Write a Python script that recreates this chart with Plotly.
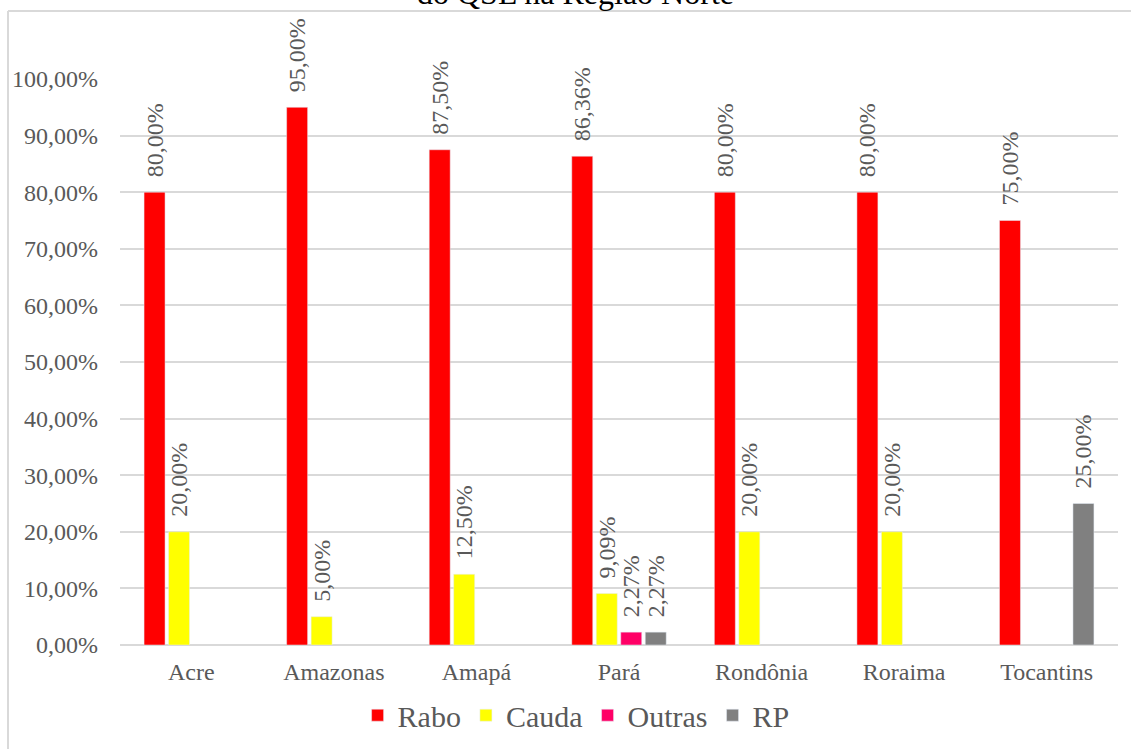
import plotly.graph_objects as go

categories = ["Acre", "Amazonas", "Amapá", "Pará", "Rondônia", "Roraima", "Tocantins"]
rabo = [0.80, 0.95, 0.875, 0.8636, 0.80, 0.80, 0.75]
cauda = [0.20, 0.05, 0.125, 0.0909, 0.20, 0.20, None]
outras = [None, None, None, 0.0227, None, None, None]
rp = [None, None, None, 0.0227, None, None, 0.25]
tick_vals = [0, 0.1, 0.2, 0.3, 0.4, 0.5, 0.6, 0.7, 0.8, 0.9, 1.0]

series = [("Rabo", rabo, "#FF0000"), ("Cauda", cauda, "#FFFF00"),
          ("Outras", outras, "#FF0066"), ("RP", rp, "#808080")]

FONT = "Liberation Serif"
GREY = "#595959"

fig = go.Figure()
for name, vals, color in series:
    fig.add_trace(go.Bar(
        x=categories, y=vals, name=name, marker_color=color,
        texttemplate="\u2002%{y:.2%}", textposition="outside", textangle=-90,
        constraintext="none", cliponaxis=False,
        textfont=dict(family=FONT, size=24, color=GREY),
    ))

fig.update_layout(
    width=1131, height=749,
    margin=dict(l=120, r=13, t=79, b=104, autoexpand=False),
    paper_bgcolor="white", plot_bgcolor="white",
    separators=",.",
    barmode="group", bargap=0.313, bargroupgap=0.143,
    font=dict(family=FONT, color=GREY, size=24),
    showlegend=True,
    legend=dict(orientation="h", x=0.457, xanchor="center", y=-0.124, yanchor="middle",
                font=dict(family=FONT, size=30, color=GREY), itemwidth=30),
    xaxis=dict(showgrid=False, showline=False, ticks="", automargin=False, ticklabelstandoff=10,
               tickfont=dict(family=FONT, size=24, color=GREY)),
    yaxis=dict(range=[0, 1.0], tickvals=tick_vals, tickformat=".2%", showgrid=True,
               gridcolor="#D9D9D9", gridwidth=1.5, zeroline=True, zerolinecolor="#D9D9D9",
               zerolinewidth=1.5, showline=False, ticklabelstandoff=21, automargin=False,
               tickfont=dict(family=FONT, size=24, color=GREY)),
)

fig.add_annotation(text="do QSL na Região Norte", xref="paper", yref="paper",
                   x=0.456, y=1.116, xanchor="center", yanchor="bottom", showarrow=False,
                   font=dict(family=FONT, size=32, color="#000000"))

# chart-area border (top and left edges visible)
fig.add_shape(type="line", xref="paper", yref="paper", x0=-112/998, x1=1.02, y0=634/566, y1=634/566,
              line=dict(color="#D9D9D9", width=2))
fig.add_shape(type="line", xref="paper", yref="paper", x0=-112/998, x1=-112/998, y0=634/566, y1=-0.2,
              line=dict(color="#D9D9D9", width=2))

fig.write_html("out.html", config={"displayModeBar": False},
               post_script="document.body.style.margin='0px';")
